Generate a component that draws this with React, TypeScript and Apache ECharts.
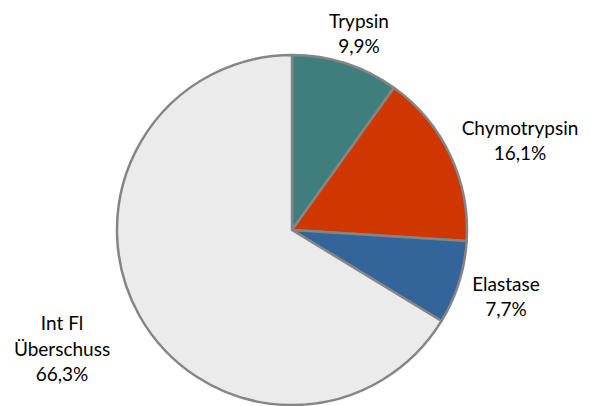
import React, { useEffect, useRef } from "react";
import * as echarts from "echarts";

const categories = ["Trypsin", "Chymotrypsin", "Elastase", "Int Fl\nÜberschuss"];
const values = [9.9, 16.1, 7.7, 66.3];
const colors = ["#3e7f7e", "#d03600", "#33659a", "#ebebeb"];
const labelAnchors = [
  [359, 33],
  [520, 140],
  [506, 296],
  [62, 348],
];

export default function App() {
  const ref = useRef<HTMLDivElement>(null);
  useEffect(() => {
    if (!ref.current) return;
    const chart = echarts.init(ref.current, null, { renderer: "svg" });
    chart.setOption({
      animation: false,
      backgroundColor: "#ffffff",
      series: [
        {
          type: "pie",
          center: [292, 230],
          radius: [0, 175],
          startAngle: 90,
          clockwise: true,
          silent: true,
          data: categories.map((c, i) => ({
            name: c,
            value: values[i],
            itemStyle: { color: colors[i] },
          })),
          itemStyle: { borderColor: "#858585", borderWidth: 2.5 },
          label: {
            show: true,
            position: "outside",
            formatter: (p: any) =>
              p.name + "\n" + values[p.dataIndex].toFixed(1).replace(".", ",") + "%",
            fontFamily: "Lato",
            fontSize: 19,
            lineHeight: 25.5,
            color: "#000000",
            align: "center",
            overflow: "none",
            width: 200,
          },
          labelLine: { show: false },
          labelLayout: (params: any) => {
            const a = labelAnchors[params.dataIndex];
            return { x: a[0], y: a[1], align: "center", verticalAlign: "middle" };
          },
        },
      ],
    });
    return () => chart.dispose();
  }, []);
  return (
    <div
      ref={ref}
      style={{ position: "fixed", left: 0, top: 0, width: 608, height: 406 }}
    />
  );
}
